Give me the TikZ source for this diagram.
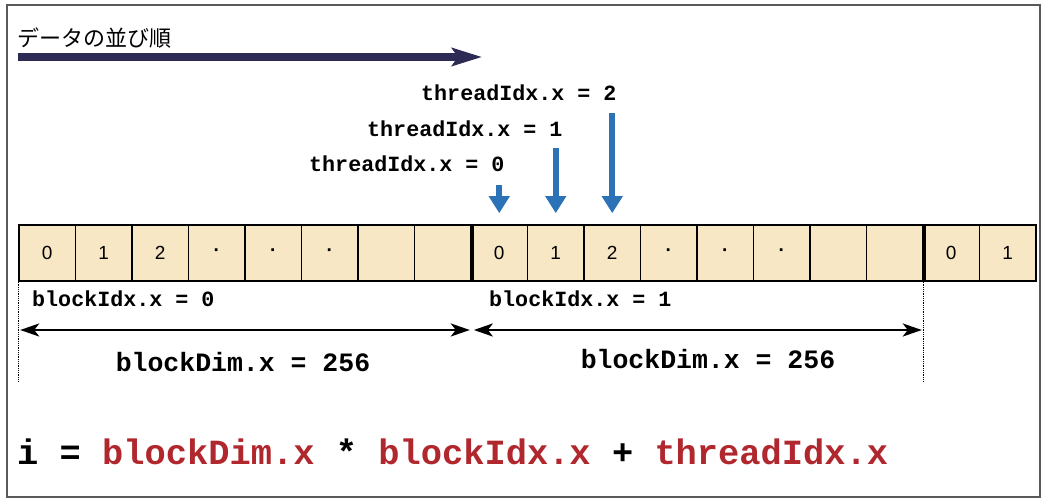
\documentclass[tikz,border=0pt]{standalone}
\usepackage{fontspec}
\setmainfont{Liberation Sans}
\setmonofont{Liberation Mono}
\newfontfamily\jpfont{Noto Sans CJK JP}
\usepackage{xcolor}
\usetikzlibrary{arrows.meta,positioning}
\definecolor{cellfill}{HTML}{F8E7C5}
\definecolor{ordernavy}{HTML}{2D2B55}
\definecolor{threadblue}{HTML}{2B73B6}
\definecolor{codered}{HTML}{B0282E}

\begin{document}
\begin{tikzpicture}
  [x=1pt,y=-1pt,
   cell/.style={draw,line width=1.6pt,fill=cellfill,minimum width=56.5pt,minimum height=56pt,inner sep=0pt},
   celltext/.style={inner sep=0pt,font=\fontsize{19}{19}\selectfont},
   code/.style={anchor=base west,inner sep=0pt,font=\ttfamily\bfseries\fontsize{21.7}{22}\selectfont},
   dimlabel/.style={anchor=base,inner sep=0pt,font=\ttfamily\bfseries\fontsize{26.5}{27}\selectfont},
   threadarrow/.style={threadblue,line width=6pt,-{Triangle[length=17pt,width=20pt]}},
   dimarrow/.style={line width=2.6pt,shorten <=2pt,shorten >=2pt,
     {Stealth[length=19pt,width=13pt,inset=5pt]}-{Stealth[length=19pt,width=13pt,inset=5pt]}},
   guide/.style={densely dotted,line width=0.8pt}]
  \useasboundingbox (0,0) rectangle (1044,502);
  \draw[gray!70!black,line width=1.2pt] (7,5) rectangle (1040,497);

  % data order
  \node[anchor=base west,inner sep=0pt,font=\jpfont\fontsize{22}{22}\selectfont] (order) at (17,47) {データの並び順};
  \coordinate (o1) at (18,57);
  \coordinate (o2) at (482,57);
  \draw[ordernavy,line width=8pt,-{Stealth[length=30pt,width=18pt,inset=6pt]}] (o1) -- (o2);

  % memory cells
  \foreach \i in {0,...,17}
    \node[cell] (c\i) at ({47.25+56.5*\i},253) {};
  \foreach \i/\t in {0/0,1/1,2/2,8/0,9/1,10/2,16/0,17/1}
    \node[celltext] at (c\i) {\t};
  \foreach \i in {3,4,5,11,12,13}
    \node[celltext] at (c\i) {\bfseries ·};
  \draw[line width=4.5pt] (c7.north east) -- (c7.south east);
  \draw[line width=4.5pt] (c15.north east) -- (c15.south east);

  % threads
  \node[code] (t2) at (421,101) {threadIdx.x = 2};
  \node[code] (t1) at (367,137) {threadIdx.x = 1};
  \node[code] (t0) at (309,172) {threadIdx.x = 0};
  \coordinate (a0) at (c8.north |- 0,185);
  \coordinate (a1) at (c9.north |- 0,148);
  \coordinate (a2) at (c10.north |- 0,113);
  \foreach \from/\to in {a0/c8,a1/c9,a2/c10}
    \draw[threadarrow,shorten >=11pt] (\from) -- (\to.north);

  % blocks
  \node[code] (b0) at (32,307) {blockIdx.x = 0};
  \node[code] (b1) at (489,307) {blockIdx.x = 1};
  \coordinate (g0) at (c0.south west);
  \coordinate (g1) at (c7.south east);
  \coordinate (g2) at (c15.south east);
  \draw[guide] (g0) -- ++(0,100);
  \draw[guide] (g2) -- ++(0,100);
  \draw[dimarrow] (g0 |- 0,330) -- (g1 |- 0,330);
  \draw[dimarrow] (g1 |- 0,330) -- (g2 |- 0,330);
  \node[dimlabel] (d0) at (243,372) {blockDim.x = 256};
  \node[dimlabel] (d1) at (708,369) {blockDim.x = 256};

  % index formula
  \node[anchor=base west,inner sep=0pt,font=\ttfamily\bfseries\fontsize{35.4}{36}\selectfont] (formula) at (17,464)
    {i = \textcolor{codered}{blockDim.x} * \textcolor{codered}{blockIdx.x} + \textcolor{codered}{threadIdx.x}};
\end{tikzpicture}
\end{document}
